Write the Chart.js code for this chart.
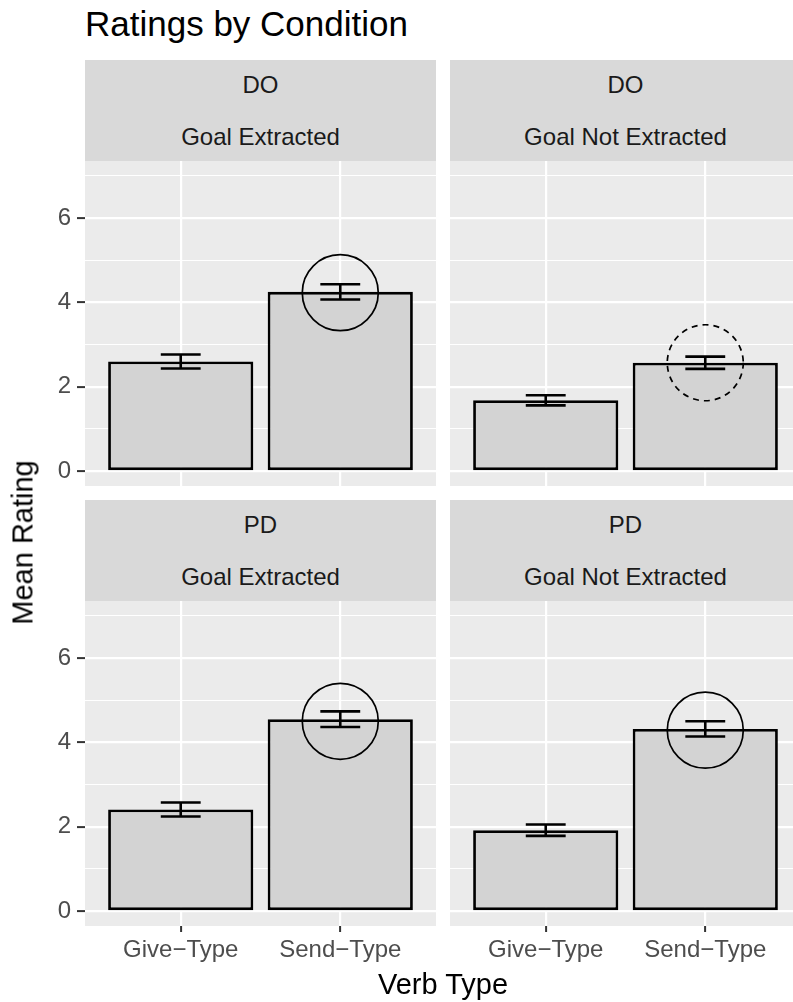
<!DOCTYPE html>
<html>
<head>
<meta charset="utf-8">
<script src="https://cdn.jsdelivr.net/npm/chart.js@4.4.1/dist/chart.umd.min.js"></script>
<style>
  html, body { margin: 0; padding: 0; background: #fff; overflow: hidden; }
  #page { position: relative; width: 793px; height: 1002px; overflow: hidden;
          font-family: "Liberation Sans", Arial, sans-serif; }
  .strip { position: absolute; background: #D9D9D9; color: #1A1A1A; font-size: 24px; width: 351px; height: 101px; }
  .strip div { position: absolute; left: 0; right: 0; text-align: center; line-height: 24px; white-space: nowrap; }
  canvas { position: absolute; }
  #title { position: absolute; left: 85px; top: 6px; font-size: 35px; line-height: 35px; color: #000; white-space: nowrap; }
  #xtitle { position: absolute; left: 85px; width: 716px; top: 970px; font-size: 29px; line-height: 29px; text-align: center; color: #000; }
  #ytitle { position: absolute; left: -127px; top: 528px; width: 300px; height: 29px; font-size: 29px; line-height: 29px;
            text-align: center; color: #000; transform: rotate(-90deg); }
</style>
</head>
<body>
<div id="page">
  <div id="title">Ratings by Condition</div>
  <div class="strip" style="left:85px;top:60px"><div style="top:13px">DO</div><div style="top:65px">Goal Extracted</div></div>
  <div class="strip" style="left:450px;top:60px"><div style="top:13px">DO</div><div style="top:65px">Goal Not Extracted</div></div>
  <div class="strip" style="left:85px;top:500px"><div style="top:13px">PD</div><div style="top:65px">Goal Extracted</div></div>
  <div class="strip" style="left:450px;top:500px"><div style="top:13px">PD</div><div style="top:65px">Goal Not Extracted</div></div>
  <canvas id="p1" width="436" height="325" style="left:0;top:161px"></canvas>
  <canvas id="p2" width="351" height="325" style="left:450px;top:161px"></canvas>
  <canvas id="p3" width="436" height="370" style="left:0;top:601px"></canvas>
  <canvas id="p4" width="351" height="370" style="left:450px;top:601px"></canvas>
  <div id="xtitle">Verb Type</div>
  <div id="ytitle">Mean Rating</div>
</div>
<script>
// categories and axis values
const verbTypes = ['Give\u2212Type', 'Send\u2212Type'];
const yGridValues = [0, 1, 2, 3, 4, 5, 6, 7];
const yLabelValues = [0, 2, 4, 6];

// means and standard errors
const doExtractedMeans = [2.60, 4.25];
const doExtractedSE = [0.165, 0.18];
const doExtractedCircle = [null, 4.23];

const doNotExtractedMeans = [1.68, 2.57];
const doNotExtractedSE = [0.12, 0.145];
const doNotExtractedCircle = [null, 2.57];

const pdExtractedMeans = [2.41, 4.55];
const pdExtractedSE = [0.165, 0.185];
const pdExtractedCircle = [null, 4.50];

const pdNotExtractedMeans = [1.92, 4.32];
const pdNotExtractedSE = [0.135, 0.18];
const pdNotExtractedCircle = [null, 4.29];

const errorCapWidth = 0.25;
const fontFamily = '"Liberation Sans", Arial, sans-serif';

// grey panel background, dashed circles and error bars
const panelPlugin = {
  id: 'panelPlugin',
  beforeDraw(chart) {
    const a = chart.chartArea, ctx = chart.ctx;
    ctx.save();
    ctx.fillStyle = '#EBEBEB';
    ctx.fillRect(a.left, a.top, a.right - a.left, a.bottom - a.top);
    ctx.restore();
  },
  beforeDatasetDraw(chart, args) {
    const ds = chart.data.datasets[args.index];
    chart.ctx.save();
    if (ds.dashed) chart.ctx.setLineDash([6, 5]);
  },
  afterDatasetDraw(chart) {
    chart.ctx.restore();
  },
  afterDatasetsDraw(chart) {
    const ctx = chart.ctx;
    const bars = chart.data.datasets[0];
    const xs = chart.scales.x, ys = chart.scales.y;
    const half = xs.getPixelForValue(1 + errorCapWidth / 2) - xs.getPixelForValue(1);
    ctx.save();
    ctx.strokeStyle = '#000';
    ctx.lineWidth = 2.6;
    bars.data.forEach((p, i) => {
      const x = xs.getPixelForValue(p.x);
      const lo = ys.getPixelForValue(p.y - bars.se[i]);
      const hi = ys.getPixelForValue(p.y + bars.se[i]);
      ctx.beginPath();
      ctx.moveTo(x, lo); ctx.lineTo(x, hi);
      ctx.moveTo(x - half, hi); ctx.lineTo(x + half, hi);
      ctx.moveTo(x - half, lo); ctx.lineTo(x + half, lo);
      ctx.stroke();
    });
    ctx.restore();
  }
};

function makePanel(id, means, ses, circles, dashed, showY, showX) {
  const circlePoints = [];
  circles.forEach((c, i) => { if (c !== null) circlePoints.push({ x: i + 1, y: c }); });

  new Chart(document.getElementById(id), {
    type: 'bar',
    data: {
      datasets: [
        {
          type: 'bar',
          order: 2,
          data: means.map((m, i) => ({ x: i + 1, y: m })),
          se: ses,
          backgroundColor: '#D3D3D3',
          borderColor: '#000',
          borderWidth: 2.8,
          borderSkipped: false,
          barPercentage: 0.91,
          categoryPercentage: 1
        },
        {
          type: 'scatter',
          order: 1,
          data: circlePoints,
          dashed: dashed,
          pointRadius: 38,
          pointHoverRadius: 38,
          pointBorderColor: '#000',
          pointBackgroundColor: 'rgba(0,0,0,0)',
          pointBorderWidth: 1.7,
          clip: false
        }
      ]
    },
    options: {
      responsive: false,
      animation: false,
      events: [],
      layout: { padding: 0, autoPadding: false },
      plugins: { legend: { display: false }, tooltip: { enabled: false } },
      scales: {
        x: {
          type: 'linear',
          min: 0.4,
          max: 2.6,
          offset: false,
          border: { display: false },
          grid: { offset: false, color: '#fff', lineWidth: 2.2, drawTicks: showX, tickLength: 6, tickColor: '#333', tickWidth: 2 },
          ticks: {
            display: showX, padding: 4, color: '#4D4D4D', maxRotation: 0, autoSkip: false,
            font: { size: 24, family: fontFamily },
            callback: v => verbTypes[v - 1] || ''
          },
          afterBuildTicks: s => { s.ticks = verbTypes.map((_, i) => ({ value: i + 1 })); },
          afterFit: s => { s.height = showX ? 45 : 0; s.paddingLeft = 0; s.paddingRight = 0; }
        },
        y: {
          min: -0.35,
          max: 7.35,
          border: { display: false },
          grid: {
            color: '#fff',
            lineWidth: c => (c.tick && yLabelValues.includes(c.tick.value)) ? 2.2 : 1.1,
            drawTicks: showY,
            tickLength: 8,
            tickWidth: 2,
            tickColor: c => (c.tick && yLabelValues.includes(c.tick.value)) ? '#333' : 'rgba(0,0,0,0)'
          },
          ticks: {
            display: showY, padding: 6, color: '#4D4D4D',
            font: { size: 24, family: fontFamily },
            callback: v => yLabelValues.includes(v) ? String(v) : ''
          },
          afterBuildTicks: s => { s.ticks = yGridValues.map(v => ({ value: v })); },
          afterFit: s => { s.width = showY ? 85 : 0; s.paddingTop = 0; s.paddingBottom = 0; }
        }
      }
    },
    plugins: [panelPlugin]
  });
}

makePanel('p1', doExtractedMeans, doExtractedSE, doExtractedCircle, false, true, false);
makePanel('p2', doNotExtractedMeans, doNotExtractedSE, doNotExtractedCircle, true, false, false);
makePanel('p3', pdExtractedMeans, pdExtractedSE, pdExtractedCircle, false, true, true);
makePanel('p4', pdNotExtractedMeans, pdNotExtractedSE, pdNotExtractedCircle, false, false, true);
</script>
</body>
</html>
